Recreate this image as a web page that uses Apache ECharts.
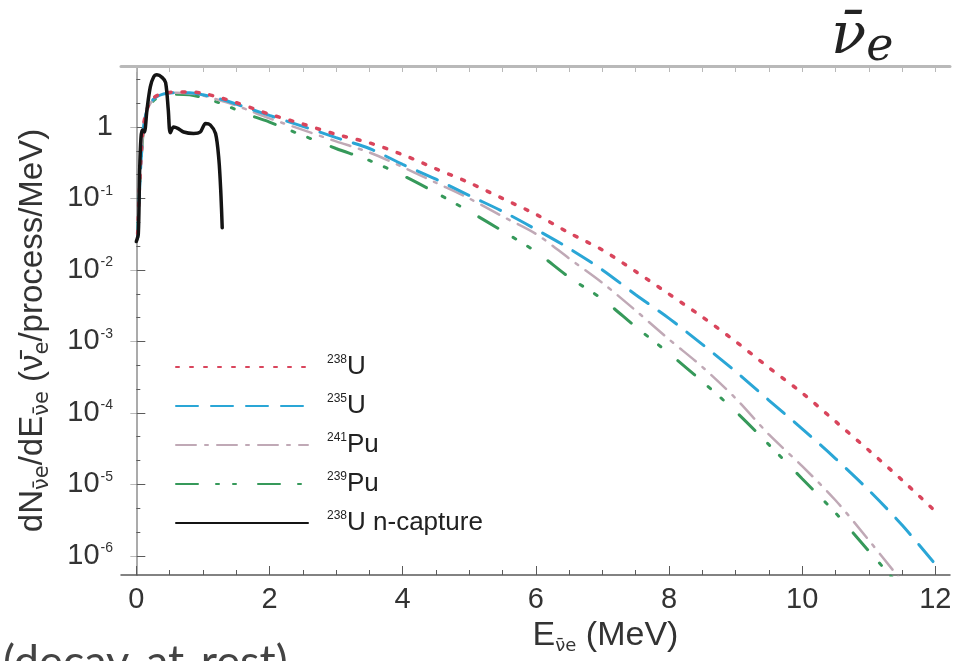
<!DOCTYPE html>
<html><head><meta charset="utf-8">
<script src="https://cdn.jsdelivr.net/npm/echarts@6/dist/echarts.min.js"></script>
<style>html,body{margin:0;padding:0;background:#fff}#c{width:961px;height:661px}</style>
</head><body><div id="c"></div>
<script>
// ---- data ----
const energyGrid = [0.02,0.05,0.1,0.15,0.25,0.4,0.6,0.8,1.0,1.3,1.5,1.75,2.0,2.5,3.0,3.5,4.0,4.5,5.0,5.5,6.0,6.5,7.0,7.5,8.0,8.5,9.0,9.5,10.0,10.5,11.0,11.5,12.0];
const flux238U = [0.032,0.16,0.89,1.66,2.51,2.95,3.09,3.09,2.95,2.51,2.19,1.82,1.51,1.10,0.79,0.60,0.41,0.26,0.166,0.10,0.060,0.033,0.019,9.5e-3,4.6e-3,2.2e-3,1.0e-3,4.3e-4,1.9e-4,7.6e-5,3.0e-5,1.15e-5,4.2e-6];
const flux235U = [0.028,0.14,0.83,1.58,2.40,2.88,3.02,3.02,2.82,2.40,2.09,1.74,1.45,1.02,0.71,0.50,0.30,0.186,0.11,0.066,0.037,0.020,0.010,4.5e-3,2.1e-3,9.1e-4,3.8e-4,1.5e-4,6.0e-5,2.3e-5,8.3e-6,2.7e-6,7.6e-7];
const energy241Pu = [0.02,0.05,0.1,0.15,0.25,0.4,0.6,0.8,1.0,1.3,1.5,1.75,2.0,2.5,3.0,3.5,4.0,4.5,5.0,5.5,6.0,6.5,7.0,7.5,8.0,8.5,9.0,9.5,10.0,10.5,11.0,11.45];
const flux241Pu = [0.028,0.14,0.83,1.58,2.40,2.88,3.02,2.95,2.75,2.29,2.0,1.62,1.32,0.91,0.63,0.44,0.275,0.166,0.10,0.056,0.032,0.0145,6.6e-3,2.7e-3,1.07e-3,4.4e-4,1.6e-4,5.0e-5,1.8e-5,6.0e-6,1.66e-6,5.0e-7];
const energy239Pu = [0.02,0.05,0.1,0.15,0.25,0.4,0.6,0.8,1.0,1.3,1.5,1.75,2.0,2.5,3.0,3.5,4.0,4.5,5.0,5.5,6.0,6.5,7.0,7.5,8.0,8.5,9.0,9.5,10.0,10.5,11.0,11.35];
const flux239Pu = [0.028,0.14,0.79,1.51,2.29,2.75,2.88,2.82,2.57,2.09,1.74,1.41,1.17,0.76,0.50,0.34,0.21,0.12,0.066,0.035,0.018,7.9e-3,3.9e-3,1.6e-3,6.8e-4,2.75e-4,1.05e-4,3.6e-5,1.2e-5,4.0e-6,1.17e-6,5.0e-7];
const energyCapture = [0.0,0.03,0.05,0.07,0.09,0.12,0.16,0.21,0.26,0.31,0.39,0.44,0.48,0.51,0.56,0.63,0.71,0.86,0.96,1.04,1.11,1.19,1.24,1.27,1.29];
const fluxCapture = [0.025,0.032,0.25,0.71,0.91,0.85,1.74,3.63,5.0,5.37,4.9,4.17,1.74,0.83,1.0,0.95,0.85,0.81,0.85,1.12,1.07,0.81,0.35,0.117,0.039];
const seriesNames = ['238U','235U','241Pu','239Pu','238U n-capture'];
const xLabelValues = [0,2,4,6,8,10,12];
const xMinorValues = [0,0.5,1,1.5,2,2.5,3,3.5,4,4.5,5,5.5,6,6.5,7,7.5,8,8.5,9,9.5,10,10.5,11,11.5,12];
const yLabelValues = [1e-6,1e-5,1e-4,1e-3,1e-2,1e-1,1];

// ---- chart ----
const X_MIN = -0.23, X_MAX = 12.22, Y_MIN = 5.4e-7, Y_MAX = 7.13;
const pair = (xs, ys) => xs.map((x, i) => [x, ys[i]]);
const yMinorValues = [];
for (let p = -7; p <= 0; p++) { yMinorValues.push(Math.pow(10, p + 1/3), Math.pow(10, p + 2/3)); }

const frameDark = '#5a5a5a', frameLight = '#b9b9b9';
const labelFont = "'Liberation Sans',Arial,sans-serif";
const supStyle = {fontSize: 14, fontFamily: labelFont, color: '#333', verticalAlign: 'top', padding: [0,0,12,1]};
const mathFont = "'DejaVu Serif',serif";

const chart = echarts.init(document.getElementById('c'), null, {renderer: 'canvas'});
const lineSeries = (name, data, color, type, width, z) => ({
  name, type: 'line', data, symbol: 'none', smooth: 0.3, xAxisIndex: 0, yAxisIndex: 0, z,
  lineStyle: {color, width, type, cap: 'round'}, itemStyle: {color}
});

chart.setOption({
  animation: false,
  backgroundColor: '#fff',
  title: [
    {text: '{nu|ν̄}{e|e}', left: 826, top: 0,
     textStyle: {fontWeight: 'normal', rich: {
       nu: {fontFamily: mathFont, fontStyle: 'italic', fontWeight: 'normal', fontSize: 58, color: '#222'},
       e: {fontFamily: mathFont, fontStyle: 'italic', fontWeight: 'normal', fontSize: 46, color: '#222', verticalAlign: 'bottom', padding: [20,0,0,0]}
     }}},
    {text: '(decay-at-rest)', left: -2, top: 635,
     textStyle: {fontFamily: "Lato,'Open Sans',sans-serif", fontWeight: 'normal', fontSize: 45, color: '#444'}}
  ],
  grid: {left: 121, right: 11, top: 66, bottom: 86, containLabel: false},
  legend: {
    orient: 'vertical', left: 170, top: 349, itemWidth: 132, itemHeight: 14, itemGap: 13,
    data: seriesNames,
    itemStyle: {opacity: 0},
    formatter: n => { const m = n.match(/^(\d+)(.*)$/); return '{sup|' + m[1] + '}{t|' + m[2] + '}'; },
    textStyle: {fontSize: 26, fontFamily: labelFont, color: '#222', padding: [0,0,0,14],
      rich: {sup: {fontSize: 12, fontFamily: labelFont, color: '#222', verticalAlign: 'top', padding: [0,0,12,0]},
             t: {fontSize: 26, fontFamily: labelFont, color: '#222'}}}
  },
  xAxis: [
    {type: 'value', min: X_MIN, max: X_MAX, position: 'bottom',
     axisLine: {show: true, onZero: false, lineStyle: {color: frameDark, width: 1.5}},
     axisTick: {show: true, inside: true, length: 9, customValues: xLabelValues, lineStyle: {color: frameDark}},
     axisLabel: {customValues: xLabelValues, fontSize: 29, fontFamily: labelFont, color: '#333', margin: 10},
     splitLine: {show: false},
     name: '{e|E}{sub|ν̄e}{e| (MeV)}', nameLocation: 'middle', nameGap: 41,
     nameTextStyle: {padding: [0,0,0,140], rich: {
       e: {fontSize: 34, fontFamily: labelFont, color: '#333'},
       sub: {fontSize: 18, fontFamily: "'DejaVu Sans',sans-serif", color: '#333', verticalAlign: 'bottom', padding: [20,0,0,0]}
     }}},
    {type: 'value', min: X_MIN, max: X_MAX, position: 'bottom',
     axisLine: {show: false}, axisLabel: {show: false}, splitLine: {show: false},
     axisTick: {show: true, inside: true, length: 5, customValues: xMinorValues, lineStyle: {color: frameDark}}},
    {type: 'value', min: X_MIN, max: X_MAX, position: 'top',
     axisLine: {show: true, onZero: false, lineStyle: {color: frameLight, width: 3}}, axisLabel: {show: false}, splitLine: {show: false},
     axisTick: {show: true, inside: true, length: 6, customValues: xMinorValues, lineStyle: {color: frameLight}}}
  ],
  yAxis: [
    {type: 'log', logBase: 10, min: Y_MIN, max: Y_MAX, position: 'left',
     axisLine: {show: true, lineStyle: {color: frameDark, width: 1.5}},
     axisTick: {show: true, inside: true, length: 9, customValues: yLabelValues, lineStyle: {color: frameDark}},
     axisLabel: {customValues: yLabelValues, margin: 8,
       formatter: v => { const p = Math.round(Math.log10(v)); return p === 0 ? '{n|1}' : '{n|10}{sup|' + p + '}'; },
       rich: {n: {fontSize: 29, fontFamily: labelFont, color: '#333'}, sup: supStyle}},
     splitLine: {show: false},
     name: 'dN{sub|ν̄e}/dE{sub|ν̄e} (ν̄{sub|e}/process/MeV)', nameLocation: 'middle', nameRotate: 90, nameGap: 68,
     nameTextStyle: {fontSize: 33, fontFamily: labelFont, color: '#333', padding: [0,20,0,0], rich: {
       sub: {fontSize: 21, fontFamily: "'DejaVu Sans',sans-serif", color: '#333', verticalAlign: 'bottom', padding: [20,0,0,0]}
     }}},
    {type: 'log', logBase: 10, min: Y_MIN, max: Y_MAX, position: 'left',
     axisLine: {show: false}, axisLabel: {show: false}, splitLine: {show: false},
     axisTick: {show: true, inside: true, length: 4, customValues: yMinorValues, lineStyle: {color: frameDark}}},
    {type: 'log', logBase: 10, min: Y_MIN, max: Y_MAX, position: 'right',
     axisLine: {show: true, lineStyle: {color: frameLight, width: 1.5}}, axisLabel: {show: false}, splitLine: {show: false},
     axisTick: {show: true, inside: true, length: 6, customValues: yLabelValues, lineStyle: {color: frameLight}}}
  ],
  series: [
    lineSeries(seriesNames[0], pair(energyGrid, flux238U), '#d9455c', [3, 11], 3.5, 5),
    lineSeries(seriesNames[1], pair(energyGrid, flux235U), '#2aa6d6', [22, 13], 3, 4),
    lineSeries(seriesNames[2], pair(energy241Pu, flux241Pu), '#c0a9b6', [20, 9, 3, 9], 2.5, 3),
    lineSeries(seriesNames[3], pair(energy239Pu, flux239Pu), '#36995a', [22, 18, 3, 14, 3, 22], 3, 2),
    lineSeries(seriesNames[4], pair(energyCapture, fluxCapture), '#141414', 'solid', 3.5, 6)
  ]
});
</script>
</body></html>
